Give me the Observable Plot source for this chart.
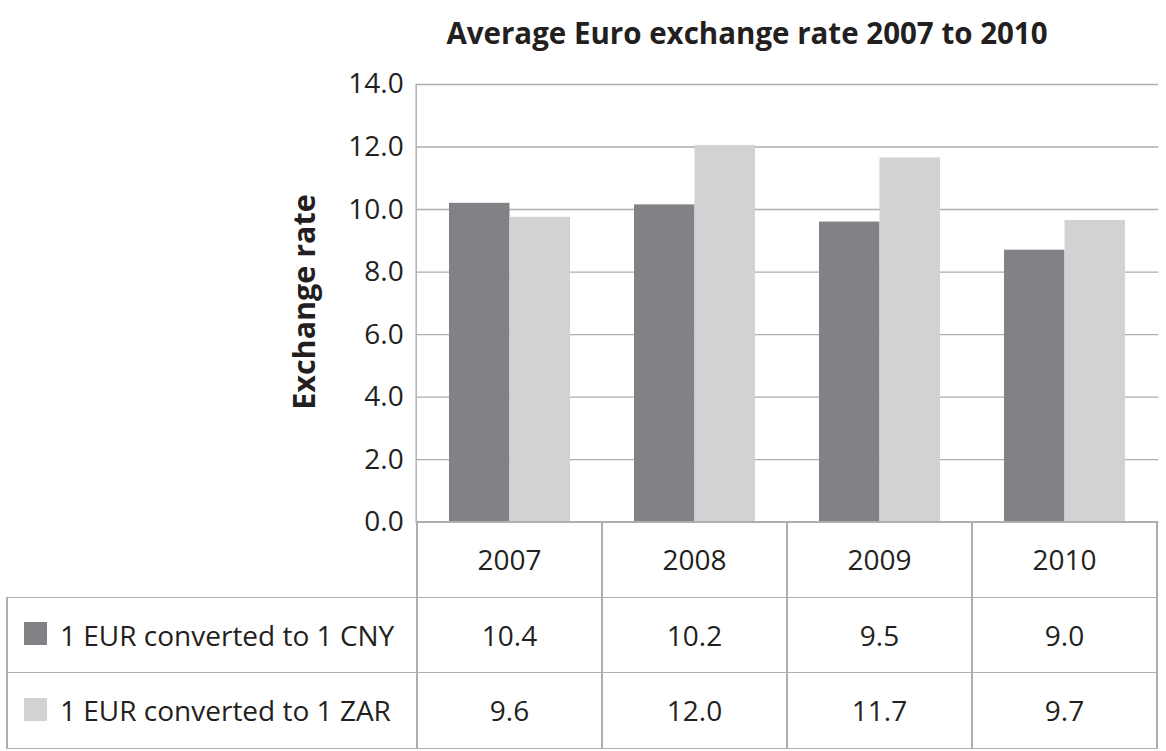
<!DOCTYPE html>
<html>
<head>
<meta charset="utf-8">
<script src="https://cdn.jsdelivr.net/npm/d3@7"></script>
<script src="https://cdn.jsdelivr.net/npm/@observablehq/plot@0.6"></script>
<style>
  html, body { margin: 0; padding: 0; background: #fff; }
  #wrap { position: relative; width: 1166px; height: 751px; overflow: hidden; font-family: "Open Sans", sans-serif; color: #231f20; }
  #wrap svg { position: absolute; left: 0; top: 0; }
  .abs { position: absolute; }
  .cell { position: absolute; display: flex; align-items: center; justify-content: center; font-size: 28px; line-height: 1; white-space: nowrap; }
  .line { position: absolute; background: #adaeb0; }
</style>
</head>
<body>
<div id="wrap"></div>
<script>
// ---- data ----
const years = ["2007", "2008", "2009", "2010"];
const seriesNames = ["1 EUR converted to 1 CNY", "1 EUR converted to 1 ZAR"];
// bar heights as drawn in the picture
const cnyBars = [10.2, 10.15, 9.6, 8.7];
const zarBars = [9.75, 12.05, 11.65, 9.65];
// values printed in the data table
const cnyTable = ["10.4", "10.2", "9.5", "9.0"];
const zarTable = ["9.6", "12.0", "11.7", "9.7"];
const yTicks = [0, 2, 4, 6, 8, 10, 12, 14];
const title = "Average Euro exchange rate 2007 to 2010";
const yLabel = "Exchange rate";

const colors = ["#818285", "#d1d2d4"];
const gridColor = "#adaeb0";

const data = years.map((y, i) => ({year: y, cny: cnyBars[i], zar: zarBars[i]}));

const W = 1166, marginLeft = 415.7, marginRight = 7.7;
const paddingInner = 0.348, paddingOuter = paddingInner / 2;
const step = (W - marginLeft - marginRight) / (years.length - paddingInner + 2 * paddingOuter);
const bw = step * (1 - paddingInner);

const chart = Plot.plot({
  width: W,
  height: 560,
  marginLeft, marginRight,
  marginTop: 84,
  marginBottom: 38.3,
  x: {domain: years, paddingInner, paddingOuter, axis: null},
  y: {domain: [0, 14], axis: null},
  style: {fontFamily: "Open Sans", fontSize: "28px", color: "#231f20", background: "transparent", overflow: "visible"},
  marks: [
    Plot.ruleY(yTicks.filter(d => d > 0), {stroke: gridColor, strokeWidth: 1.4}),
    Plot.barY(data, {x: "year", y: "cny", fill: colors[0], insetRight: bw / 2}),
    Plot.barY(data, {x: "year", y: "zar", fill: colors[1], insetLeft: bw / 2}),
    Plot.ruleY([0], {stroke: gridColor, strokeWidth: 1.4}),
    Plot.frame({anchor: "left", stroke: gridColor, strokeWidth: 1.4}),
    Plot.axisY({ticks: yTicks, tickSize: 0, tickPadding: 12.5, tickFormat: d => d.toFixed(1), label: null, fontSize: 28, fill: "#231f20"})
  ]
});

const wrap = document.getElementById("wrap");
wrap.appendChild(chart);

// ---- title & y label ----
const t = document.createElement("div");
t.className = "abs";
t.textContent = title;
Object.assign(t.style, {left: "747px", top: "33px", transform: "translate(-50%,-50%)", fontWeight: "700", fontSize: "29.5px", whiteSpace: "nowrap", lineHeight: "1"});
wrap.appendChild(t);

const yl = document.createElement("div");
yl.className = "abs";
yl.textContent = yLabel;
Object.assign(yl.style, {left: "303px", top: "302px", transform: "translate(-50%,-50%) rotate(-90deg)", fontWeight: "700", fontSize: "30.5px", whiteSpace: "nowrap", lineHeight: "1"});
wrap.appendChild(yl);

// ---- data table (columns from the x scale) ----
const xs = chart.scale("x");
const ys = chart.scale("y");
const sStep = xs.step, sBw = xs.bandwidth;
const colLeft = years.map(y => xs.apply(y) - (sStep - sBw) / 2);
const colRight = colLeft.map(l => l + sStep);
const tableLeft = 7;
const top0 = ys.apply(0);
const rowH = 75.5;
const rowTop = [top0, top0 + rowH, top0 + 2 * rowH, top0 + 3 * rowH];
const lw = 1.4;

function hLine(x1, x2, y) {
  const d = document.createElement("div"); d.className = "line";
  Object.assign(d.style, {left: (x1 - lw / 2) + "px", top: (y - lw / 2) + "px", width: (x2 - x1 + lw) + "px", height: lw + "px"});
  wrap.appendChild(d);
}
function vLine(x, y1, y2) {
  const d = document.createElement("div"); d.className = "line";
  Object.assign(d.style, {left: (x - lw / 2) + "px", top: (y1 - lw / 2) + "px", width: lw + "px", height: (y2 - y1 + lw) + "px"});
  wrap.appendChild(d);
}
function cell(text, x1, x2, y1, y2, extra) {
  const d = document.createElement("div"); d.className = "cell";
  d.textContent = text;
  Object.assign(d.style, {left: x1 + "px", top: y1 + "px", width: (x2 - x1) + "px", height: (y2 - y1) + "px"}, extra || {});
  wrap.appendChild(d);
}

const right = colRight[colRight.length - 1];
hLine(colLeft[0], right, rowTop[0]);
hLine(tableLeft, right, rowTop[1]);
hLine(tableLeft, right, rowTop[2]);
hLine(tableLeft, right, rowTop[3]);
vLine(tableLeft, rowTop[1], rowTop[3]);
vLine(colLeft[0], rowTop[0], rowTop[3]);
colRight.forEach(x => vLine(x, rowTop[0], rowTop[3]));

years.forEach((y, i) => {
  cell(y, colLeft[i], colRight[i], rowTop[0], rowTop[1]);
  cell(cnyTable[i], colLeft[i], colRight[i], rowTop[1], rowTop[2]);
  cell(zarTable[i], colLeft[i], colRight[i], rowTop[2], rowTop[3]);
});

[0, 1].forEach(k => {
  const y1 = rowTop[k + 1], y2 = rowTop[k + 2];
  const sw = document.createElement("div");
  sw.className = "abs";
  Object.assign(sw.style, {left: "24px", top: ((y1 + y2) / 2 - 12.5) + "px", width: "23px", height: "23px", background: colors[k]});
  wrap.appendChild(sw);
  cell(seriesNames[k], 60, colLeft[0], y1, y2, {justifyContent: "flex-start"});
});
</script>
</body>
</html>
